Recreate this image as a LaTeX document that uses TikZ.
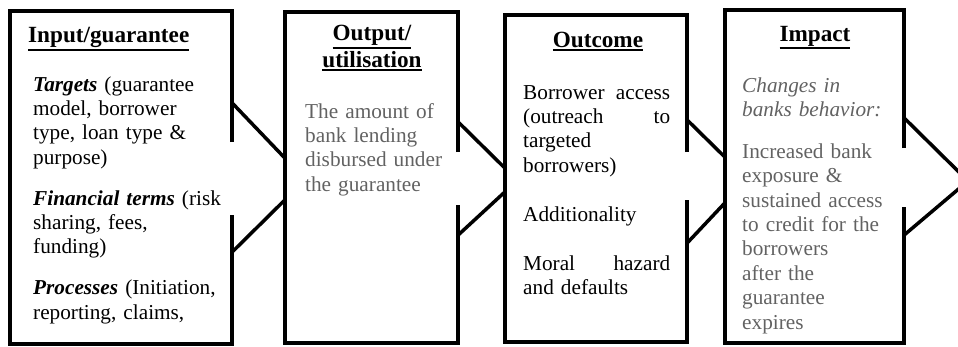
\documentclass[tikz,border=0pt]{standalone}
\usepackage{fontspec}
\setmainfont{Liberation Serif}
\usetikzlibrary{positioning}
\definecolor{bodygray}{RGB}{98,98,98}
\newsavebox\ttlbox
\newcommand\ttl[1]{\sbox\ttlbox{#1}\rlap{\rule[\dimexpr-\dp\ttlbox-3.5pt\relax]{\wd\ttlbox}{2pt}}\usebox\ttlbox}
\tikzset{x=1pt, y=-1pt,
stage/.style={ % Sets the size of each box, outline drawn separately
inner sep=0pt},
frame/.style={line width=3.8pt},
chevron/.style={line width=3.5pt},
title/.style={inner sep=0pt, align=center,
font=\fontsize{23.2}{26.7}\selectfont\bfseries},
body/.style={inner sep=0pt, align=left,
font=\fontsize{21.25}{24.4}\selectfont}}

\begin{document}
\begin{tikzpicture}
\useasboundingbox (0,0) rectangle (958,346);
\clip (0,0) rectangle (958,346);
% boxes
\node[stage, minimum width=222pt, minimum height=333pt] (b1) at (121,177.5) {};
\node[stage, minimum width=173pt, minimum height=331pt] (b2) at (371.5,177.5) {};
\node[stage, minimum width=182pt, minimum height=327pt] (b3) at (596,178.5) {};
\node[stage, minimum width=179pt, minimum height=333pt] (b4) at (814.5,176.5) {};
\coordinate (tip) at (968,181);
% arrows between the boxes
\draw[chevron] (b1.east |- 0,103) -- (b2.west |- 0,158);
\draw[chevron] (b2.west |- 0,200) -- (b1.east |- 0,252);
\draw[chevron] (b2.east |- 0,122) -- (b3.west |- 0,168);
\draw[chevron] (b3.west |- 0,192) -- (b2.east |- 0,235);
\draw[chevron] (b3.east |- 0,120) -- (b4.west |- 0,157);
\draw[chevron] (b4.west |- 0,203) -- (b3.east |- 0,243);
\draw[chevron] (b4.east |- 0,118) -- (tip) -- (b4.east |- 0,235);
% outlines, right side left open
\draw[frame] (b1.east |- 0,142) |- (b1.north west) |- (b1.south east) -- (b1.east |- 0,215);
\draw[frame] (b2.east |- 0,152) |- (b2.north west) |- (b2.south east) -- (b2.east |- 0,205);
\draw[frame] (b3.east |- 0,152) |- (b3.north west) |- (b3.south east) -- (b3.east |- 0,200);
\draw[frame] (b4.east |- 0,148) |- (b4.north west) |- (b4.south east) -- (b4.east |- 0,207);
% texts
\node[title, anchor=base west] (t1) at (28,42) {\ttl{Input/guarantee}};
\node[body, text width=195pt, anchor=base west] (d1) at (33,91)
{\textbf{\textit{Targets}} (guarantee\\model, borrower\\type, loan type \&\\purpose)\\[16.5pt]
\textbf{\textit{Financial terms}} (risk\\sharing, fees,\\funding)\\[16.5pt]
\textbf{\textit{Processes}} (Initiation,\\reporting, claims,};
\node[title, anchor=base] (t2) at (372,67) {\ttl{Output/}\\\ttl{utilisation}};
\node[body, text width=150pt, anchor=base west, text=bodygray] (d2) at (305,118)
{The amount of\\bank lending\\disbursed under\\the guarantee};
\node[title, anchor=base] (t3) at (598,47) {\ttl{Outcome}};
\node[body, text width=147pt, anchor=base west] (d3) at (523,99)
{Borrower\hfill access\\(outreach\hfill to\\targeted\\borrowers)\\[25pt]
Additionality\\[24.5pt]
Moral\hfill hazard\\and defaults};
\node[title, anchor=base] (t4) at (815,41) {\ttl{Impact}};
\node[body, text width=160pt, anchor=base west, text=bodygray] (d4) at (742,92)
{\textit{Changes in}\\\textit{banks behavior:}\\[17.5pt]
Increased bank\\exposure \&\\sustained access\\to credit for the\\borrowers\\after the\\guarantee\\expires};
\end{tikzpicture}
\end{document}
